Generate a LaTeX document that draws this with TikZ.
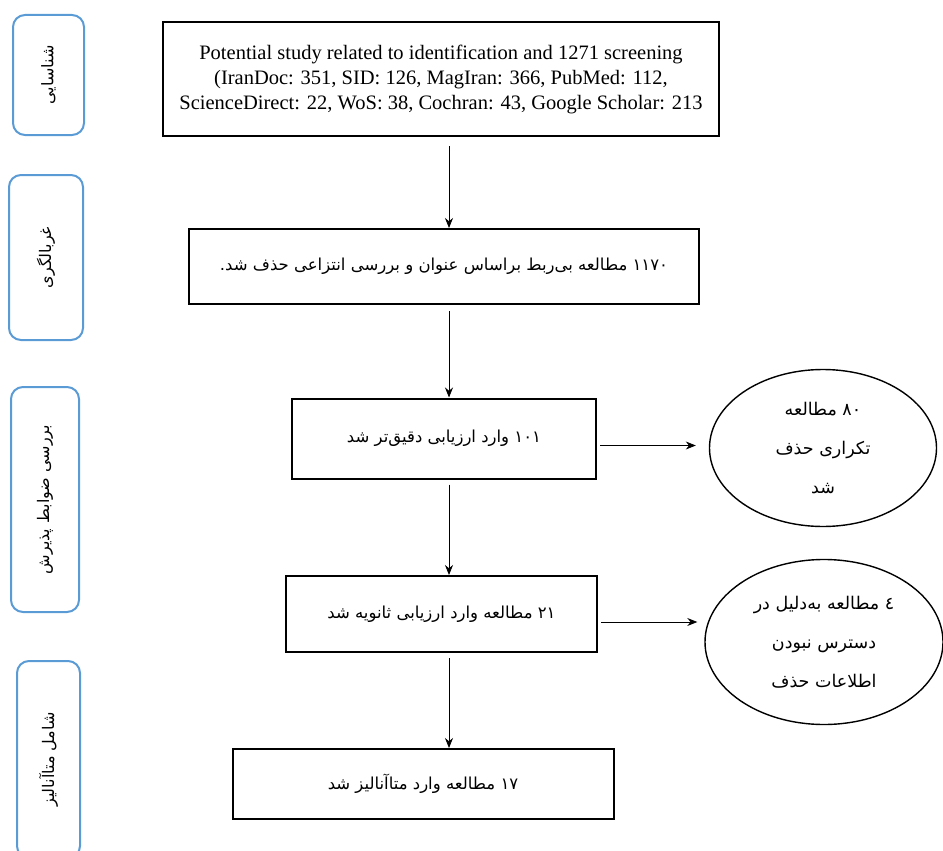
\documentclass[tikz,border=0pt]{standalone}
\usepackage{fontspec}
\setmainfont{Liberation Serif}
\newfontfamily\arabicfont[Script=Arabic]{DejaVu Sans}
\TeXXeTstate=1
\usetikzlibrary{shapes.geometric,arrows.meta}
\definecolor{stageblue}{RGB}{91,155,213}

\begin{document}
\begin{tikzpicture}[x=1pt,y=-1pt,
	stage/.style={draw=stageblue,line width=2pt,rounded corners=12pt,rotate=90,
		inner sep=0pt,font=\arabicfont\fontsize{16}{20}\selectfont},
	flowbox/.style={draw,line width=2pt,inner sep=0pt,align=center,
		font=\arabicfont\fontsize{16.5}{20}\selectfont},
	dropout/.style={ellipse,draw,line width=1.4pt,inner sep=0pt,align=center,
		font=\arabicfont\fontsize{17.5}{39}\selectfont},
	flow/.style={-{Stealth[length=10pt,width=8pt]},line width=0.8pt}]
		\useasboundingbox (0,0) rectangle (943,851);
		%=========== stages on the left, from top to bottom===========================
		\node[stage,minimum width=120pt,minimum height=71pt] (stageA) at (48.5,75) {\beginR شناسایی\endR};
		\node[stage,minimum width=165pt,minimum height=74pt] (stageB) at (46,257.5) {\beginR غربالگری\endR};
		\node[stage,minimum width=225pt,minimum height=68pt] (stageC) at (45,499.5) {\beginR بررسی ضوابط پذیرش\endR};
		\node[stage,minimum width=197pt,minimum height=63pt] (stageD) at (48.5,759.5) {\beginR شامل متاآنالیز\endR};
		%=========== flow boxes, from top to bottom===========================
		\node[flowbox,minimum width=556pt,minimum height=114pt,font=\fontsize{20.5}{25}\selectfont] (found) at (441,79)
			{Potential study related to identification and 1271 screening\\
			(IranDoc: 351, SID: 126, MagIran: 366, PubMed: 112,\\
			ScienceDirect: 22, WoS: 38, Cochran: 43, Google Scholar: 213};
		\node[flowbox,minimum width=510pt,minimum height=75pt] (screened) at (444,266.5)
			{\beginR ۱۱۷۰ مطالعه بی‌ربط براساس عنوان و بررسی انتزاعی حذف شد.\endR};
		\node[flowbox,minimum width=304pt,minimum height=80pt] (assessed) at (444,438.5)
			{\beginR ۱۰۱ وارد ارزیابی دقیق‌تر شد\endR};
		\node[flowbox,minimum width=311pt,minimum height=76pt] (second) at (441.5,614)
			{\beginR ۲۱ مطالعه وارد ارزیابی ثانویه شد\endR};
		\node[flowbox,minimum width=381pt,minimum height=70pt] (included) at (423,784)
			{\beginR ۱۷ مطالعه وارد متاآنالیز شد\endR};
		%=========== removed studies on the right===========================
		\node[dropout,minimum width=227pt,minimum height=157pt] (dupes) at (823,448)
			{\beginR ۸۰ مطالعه\endR\\ \beginR تکراری حذف\endR\\ \beginR شد\endR};
		\node[dropout,minimum width=238pt,minimum height=165pt] (nodata) at (824,642)
			{\beginR ٤ مطالعه به‌دلیل در\endR\\ \beginR دسترس نبودن\endR\\ \beginR اطلاعات حذف\endR};
		%=========== arrows===========================
		\coordinate (spine) at (449,0);
		\draw[flow,shorten <=9pt] (found.south -| spine) -- (screened.north -| spine);
		\draw[flow,shorten <=6pt] (screened.south -| spine) -- (assessed.north -| spine);
		\draw[flow,shorten <=5pt] (assessed.south -| spine) -- (second.north -| spine);
		\draw[flow,shorten <=5pt] (second.south -| spine) -- (included.north -| spine);
		\draw[flow,shorten <=3pt,shorten >=13pt] ([yshift=-7pt]assessed.east) -- ([yshift=-7pt]assessed.east -| dupes.west);
		\draw[flow,shorten <=3pt,shorten >=7pt] ([yshift=-8pt]second.east) -- ([yshift=-8pt]second.east -| nodata.west);
	\end{tikzpicture}
\end{document}
